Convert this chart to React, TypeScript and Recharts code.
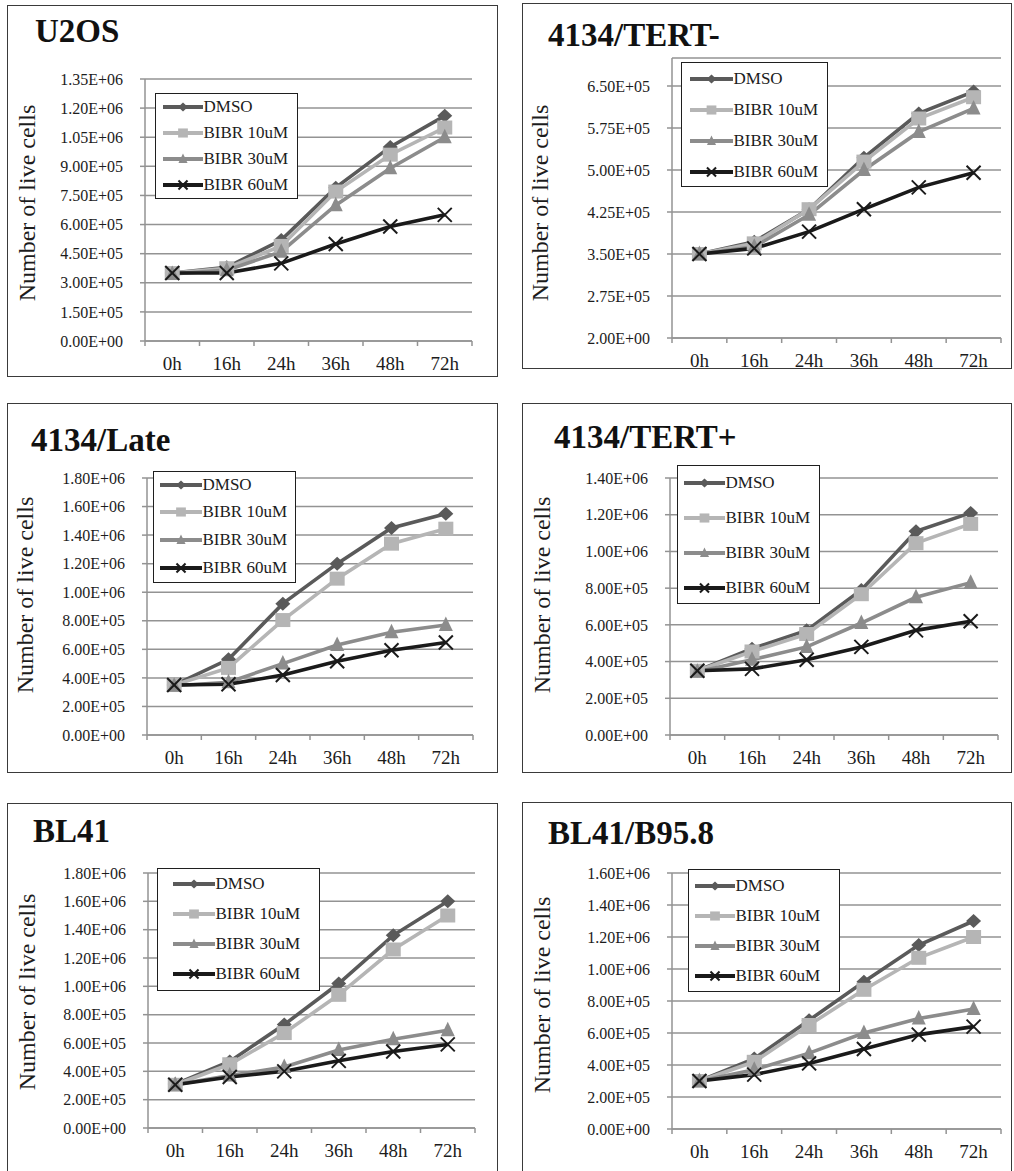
import React from 'react';
import { LineChart, Line, XAxis, YAxis, CartesianGrid, Legend } from 'recharts';

// ---------- DATA ----------
const categories = ['0h', '16h', '24h', '36h', '48h', '72h'];
const seriesNames = ['DMSO', 'BIBR 10uM', 'BIBR 30uM', 'BIBR 60uM'];

const u2osDMSO = [350000, 380000, 520000, 790000, 1000000, 1160000];
const u2osB10 = [350000, 375000, 490000, 770000, 960000, 1100000];
const u2osB30 = [345000, 365000, 460000, 700000, 890000, 1050000];
const u2osB60 = [350000, 350000, 400000, 500000, 590000, 650000];
const u2osTicks = [0, 150000, 300000, 450000, 600000, 750000, 900000, 1050000, 1200000, 1350000];
const u2osTickLabels = ['0.00E+00', '1.50E+05', '3.00E+05', '4.50E+05', '6.00E+05', '7.50E+05', '9.00E+05', '1.05E+06', '1.20E+06', '1.35E+06'];

const tertMinusDMSO = [350000, 372000, 430000, 522000, 601000, 640000];
const tertMinusB10 = [350000, 369000, 430000, 515000, 592000, 630000];
const tertMinusB30 = [350000, 363000, 420000, 500000, 568000, 610000];
const tertMinusB60 = [350000, 360000, 390000, 430000, 469000, 495000];
const tertMinusTicks = [200000, 275000, 350000, 425000, 500000, 575000, 650000];
const tertMinusTickLabels = ['2.00E+00', '2.75E+05', '3.50E+05', '4.25E+05', '5.00E+05', '5.75E+05', '6.50E+05'];

const lateDMSO = [350000, 530000, 920000, 1200000, 1450000, 1550000];
const lateB10 = [350000, 470000, 805000, 1095000, 1340000, 1445000];
const lateB30 = [345000, 370000, 500000, 630000, 720000, 770000];
const lateB60 = [350000, 355000, 420000, 517000, 594000, 648000];
const lateTicks = [0, 200000, 400000, 600000, 800000, 1000000, 1200000, 1400000, 1600000, 1800000];
const lateTickLabels = ['0.00E+00', '2.00E+05', '4.00E+05', '6.00E+05', '8.00E+05', '1.00E+06', '1.20E+06', '1.40E+06', '1.60E+06', '1.80E+06'];

const tertPlusDMSO = [350000, 470000, 570000, 790000, 1110000, 1210000];
const tertPlusB10 = [350000, 455000, 550000, 767000, 1045000, 1150000];
const tertPlusB30 = [345000, 410000, 480000, 610000, 750000, 830000];
const tertPlusB60 = [350000, 360000, 410000, 480000, 570000, 620000];
const tertPlusTicks = [0, 200000, 400000, 600000, 800000, 1000000, 1200000, 1400000];
const tertPlusTickLabels = ['0.00E+00', '2.00E+05', '4.00E+05', '6.00E+05', '8.00E+05', '1.00E+06', '1.20E+06', '1.40E+06'];

const bl41DMSO = [310000, 470000, 730000, 1020000, 1360000, 1600000];
const bl41B10 = [305000, 450000, 670000, 940000, 1260000, 1500000];
const bl41B30 = [305000, 370000, 430000, 550000, 627000, 690000];
const bl41B60 = [305000, 360000, 400000, 474000, 540000, 590000];
const bl41Ticks = [0, 200000, 400000, 600000, 800000, 1000000, 1200000, 1400000, 1600000, 1800000];
const bl41TickLabels = ['0.00E+00', '2.00E+05', '4.00E+05', '6.00E+05', '8.00E+05', '1.00E+06', '1.20E+06', '1.40E+06', '1.60E+06', '1.80E+06'];

const b958DMSO = [300000, 440000, 680000, 920000, 1150000, 1300000];
const b958B10 = [300000, 420000, 650000, 870000, 1070000, 1200000];
const b958B30 = [300000, 370000, 474000, 600000, 690000, 750000];
const b958B60 = [300000, 340000, 410000, 500000, 590000, 640000];
const b958Ticks = [0, 200000, 400000, 600000, 800000, 1000000, 1200000, 1400000, 1600000];
const b958TickLabels = ['0.00E+00', '2.00E+05', '4.00E+05', '6.00E+05', '8.00E+05', '1.00E+06', '1.20E+06', '1.40E+06', '1.60E+06'];

// ---------- STYLE ----------
const SERIF = "'Liberation Serif', 'Times New Roman', Tinos, serif";
const GRID = '#939393';
const TEXT = '#1c1c1c';
const KEYS = ['dmso', 'b10', 'b30', 'b60'];
const COLORS = ['#5a5a5a', '#b5b5b5', '#8c8c8c', '#1a1a1a'];
const SHAPES = ['diamond', 'square', 'triangle', 'x'];

const buildRows = (a: number[], b: number[], c: number[], d: number[]) =>
  categories.map((t, i) => ({ t, dmso: a[i], b10: b[i], b30: c[i], b60: d[i] }));

type Layout = {
  frame: { x: number; y: number; w: number; h: number };
  plot: { l: number; r: number; t: number; b: number };
  title: { x: number; base: number };
  ylabel: { cx: number; cy: number };
  legend: { x: number; y: number; w: number; h: number; lineX: number; lineLen: number; firstY: number; gap: number };
};

const panels = [
  {
    title: 'U2OS',
    rows: buildRows(u2osDMSO, u2osB10, u2osB30, u2osB60),
    ticks: u2osTicks, tickLabels: u2osTickLabels, domain: [0, 1350000],
    layout: {
      frame: { x: 7, y: 5, w: 491, h: 372 }, plot: { l: 145, r: 472, t: 79, b: 341 },
      title: { x: 35, base: 43 }, ylabel: { cx: 27, cy: 203 },
      legend: { x: 155, y: 93, w: 143, h: 106, lineX: 8, lineLen: 40, firstY: 14, gap: 26 },
    } as Layout,
  },
  {
    title: '4134/TERT-',
    rows: buildRows(tertMinusDMSO, tertMinusB10, tertMinusB30, tertMinusB60),
    ticks: tertMinusTicks, tickLabels: tertMinusTickLabels, domain: [200000, 700000],
    layout: {
      frame: { x: 522, y: 3, w: 490, h: 366 }, plot: { l: 672, r: 1001, t: 58, b: 338 },
      title: { x: 548, base: 47 }, ylabel: { cx: 540, cy: 203 },
      legend: { x: 681, y: 62, w: 147, h: 125, lineX: 9, lineLen: 43, firstY: 17, gap: 31 },
    } as Layout,
  },
  {
    title: '4134/Late',
    rows: buildRows(lateDMSO, lateB10, lateB30, lateB60),
    ticks: lateTicks, tickLabels: lateTickLabels, domain: [0, 1800000],
    layout: {
      frame: { x: 7, y: 403, w: 491, h: 370 }, plot: { l: 147, r: 473, t: 478, b: 735 },
      title: { x: 31, base: 452 }, ylabel: { cx: 25, cy: 595 },
      legend: { x: 153, y: 471, w: 143, h: 112, lineX: 7, lineLen: 42, firstY: 14, gap: 27.7 },
    } as Layout,
  },
  {
    title: '4134/TERT+',
    rows: buildRows(tertPlusDMSO, tertPlusB10, tertPlusB30, tertPlusB60),
    ticks: tertPlusTicks, tickLabels: tertPlusTickLabels, domain: [0, 1400000],
    layout: {
      frame: { x: 522, y: 403, w: 490, h: 370 }, plot: { l: 670, r: 998, t: 478, b: 735 },
      title: { x: 554, base: 449 }, ylabel: { cx: 542, cy: 595 },
      legend: { x: 677, y: 465, w: 143, h: 139, lineX: 7, lineLen: 41, firstY: 18, gap: 35 },
    } as Layout,
  },
  {
    title: 'BL41',
    rows: buildRows(bl41DMSO, bl41B10, bl41B30, bl41B60),
    ticks: bl41Ticks, tickLabels: bl41TickLabels, domain: [0, 1800000],
    layout: {
      frame: { x: 7, y: 803, w: 491, h: 380 }, plot: { l: 148, r: 475, t: 873, b: 1128 },
      title: { x: 33, base: 843 }, ylabel: { cx: 27, cy: 992 },
      legend: { x: 157, y: 868, w: 163, h: 123, lineX: 16, lineLen: 42, firstY: 16, gap: 30 },
    } as Layout,
  },
  {
    title: 'BL41/B95.8',
    rows: buildRows(b958DMSO, b958B10, b958B30, b958B60),
    ticks: b958Ticks, tickLabels: b958TickLabels, domain: [0, 1600000],
    layout: {
      frame: { x: 522, y: 802, w: 490, h: 380 }, plot: { l: 672, r: 1001, t: 873, b: 1129 },
      title: { x: 548, base: 845 }, ylabel: { cx: 542, cy: 995 },
      legend: { x: 688, y: 869, w: 152, h: 123, lineX: 7, lineLen: 40, firstY: 17, gap: 30 },
    } as Layout,
  },
];

// ---------- MARKERS ----------
const MarkerShape = ({ shape, cx, cy, color, s = 1 }: any) => {
  if (cx == null || cy == null) return null;
  if (shape === 'diamond') {
    const rx = 7.5 * s;
    const ry = 7 * s;
    return <polygon points={`${cx},${cy - ry} ${cx + rx},${cy} ${cx},${cy + ry} ${cx - rx},${cy}`} fill={color} />;
  }
  if (shape === 'square') {
    const hx = 7.5 * s;
    const hy = 7 * s;
    return <rect x={cx - hx} y={cy - hy} width={2 * hx} height={2 * hy} fill={color} />;
  }
  if (shape === 'triangle') {
    const w = 7 * s;
    return <polygon points={`${cx},${cy - 8.5 * s} ${cx + w},${cy + 6 * s} ${cx - w},${cy + 6 * s}`} fill={color} />;
  }
  const a = 7 * s;
  return (
    <g stroke={color} strokeWidth={2}>
      <line x1={cx - a} y1={cy - a} x2={cx + a} y2={cy + a} />
      <line x1={cx - a} y1={cy + a} x2={cx + a} y2={cy - a} />
    </g>
  );
};

const makeDot = (shape: string, color: string) => (props: any) => {
  const { cx, cy, index } = props;
  return (
    <g key={`dot-${shape}-${index}`}>
      <MarkerShape shape={shape} cx={cx} cy={cy} color={color} />
    </g>
  );
};

// ---------- AXIS TICKS ----------
const XTick = (props: any) => {
  const { x, y, payload, index, bw, lastIndex } = props;
  return (
    <g>
      <line x1={x - bw / 2} y1={y} x2={x - bw / 2} y2={y + 5} stroke={GRID} strokeWidth={1.5} />
      {index === lastIndex && <line x1={x + bw / 2} y1={y} x2={x + bw / 2} y2={y + 5} stroke={GRID} strokeWidth={1.5} />}
      <text x={x} y={y + 29} textAnchor="middle" fontSize={19} fontFamily={SERIF} fill={TEXT}>
        {payload.value}
      </text>
    </g>
  );
};

// ---------- LEGEND ----------
const LegendBox = ({ lg }: { lg: Layout['legend'] }) => (
  <div
    style={{
      position: 'relative', width: lg.w, height: lg.h, boxSizing: 'border-box',
      border: '1.5px solid #1f1f1f', background: '#fff',
    }}
  >
    {seriesNames.map((name, i) => {
      const cy = lg.firstY + i * lg.gap;
      return (
        <div key={name} style={{ position: 'absolute', left: lg.lineX - 1.5, top: cy - 11 - 1.5, height: 22, display: 'flex', alignItems: 'center', whiteSpace: 'nowrap' }}>
          <svg width={lg.lineLen} height={22} style={{ display: 'block' }}>
            <line x1={0} y1={11} x2={lg.lineLen} y2={11} stroke={COLORS[i]} strokeWidth={3.8} />
            <MarkerShape shape={SHAPES[i]} cx={lg.lineLen / 2} cy={11} color={COLORS[i]} s={0.65} />
          </svg>
          <span style={{ fontFamily: SERIF, fontSize: 17, color: TEXT, marginLeft: 1, lineHeight: '22px' }}>{name}</span>
        </div>
      );
    })}
  </div>
);

// ---------- PANEL ----------
const Panel = ({ p }: { p: (typeof panels)[number] }) => {
  const { frame, plot, title, ylabel, legend } = p.layout;
  const chartH = frame.h + 14;
  const yAxisWidth = plot.l - frame.x;
  const xAxisHeight = frame.y + chartH - plot.b;
  const marginTop = plot.t - frame.y;
  const marginRight = frame.x + frame.w - plot.r;
  const bw = (plot.r - plot.l) / categories.length;
  const fmt = (v: number) => {
    const i = p.ticks.indexOf(v);
    return i >= 0 ? p.tickLabels[i] : String(v);
  };
  return (
    <div style={{ position: 'absolute', left: frame.x, top: frame.y, width: frame.w, height: frame.h }}>
      <LineChart
        width={frame.w}
        height={chartH}
        data={p.rows}
        margin={{ top: marginTop, right: marginRight, bottom: 0, left: 0 }}
        style={{ position: 'absolute', left: 0, top: 0 }}
      >
        <CartesianGrid vertical={false} stroke={GRID} strokeWidth={1.5} />
        <XAxis
          dataKey="t"
          scale="band"
          interval={0}
          height={xAxisHeight}
          tickLine={false}
          tickSize={0}
          tickMargin={0}
          axisLine={{ stroke: GRID, strokeWidth: 1.5 }}
          tick={<XTick bw={bw} lastIndex={categories.length - 1} />}
        />
        <YAxis
          type="number"
          domain={p.domain}
          ticks={p.ticks}
          interval={0}
          allowDataOverflow
          width={yAxisWidth}
          tickSize={5}
          tickMargin={17}
          tickFormatter={fmt}
          axisLine={{ stroke: GRID, strokeWidth: 1.5 }}
          tickLine={{ stroke: GRID, strokeWidth: 1.5 }}
          tick={{ fontSize: 16, fill: TEXT, fontFamily: SERIF }}
        />
        {KEYS.map((k, i) => (
          <Line
            key={k}
            type="linear"
            dataKey={k}
            name={seriesNames[i]}
            stroke={COLORS[i]}
            strokeWidth={3.6}
            dot={makeDot(SHAPES[i], COLORS[i])}
            activeDot={false}
            isAnimationActive={false}
          />
        ))}
        <Legend
          layout="vertical"
          align="center"
          verticalAlign="middle"
          wrapperStyle={{ left: legend.x - frame.x, top: legend.y - frame.y, width: legend.w, height: legend.h }}
          content={() => <LegendBox lg={legend} />}
        />
      </LineChart>
      <div
        style={{
          position: 'absolute', left: 0, top: 0, width: frame.w, height: frame.h, boxSizing: 'border-box',
          border: '1.5px solid #3a3a3a', pointerEvents: 'none',
        }}
      />
      <div
        style={{
          position: 'absolute', left: title.x - frame.x, top: title.base - frame.y - 27.6,
          fontFamily: SERIF, fontWeight: 'bold', fontSize: 33, lineHeight: '33px', color: '#111', whiteSpace: 'nowrap',
        }}
      >
        {p.title}
      </div>
      <div
        style={{
          position: 'absolute', left: ylabel.cx - frame.x - 150, top: ylabel.cy - frame.y - 16, width: 300, height: 32,
          lineHeight: '32px', textAlign: 'center', transform: 'rotate(-90deg)', fontFamily: SERIF, fontSize: 24,
          color: TEXT, whiteSpace: 'nowrap',
        }}
      >
        Number of live cells
      </div>
    </div>
  );
};

export default function App() {
  return (
    <div style={{ position: 'absolute', left: 0, top: 0, width: 1014, height: 1171, overflow: 'hidden', background: '#fff' }}>
      {panels.map((p) => (
        <Panel key={p.title} p={p} />
      ))}
    </div>
  );
}
